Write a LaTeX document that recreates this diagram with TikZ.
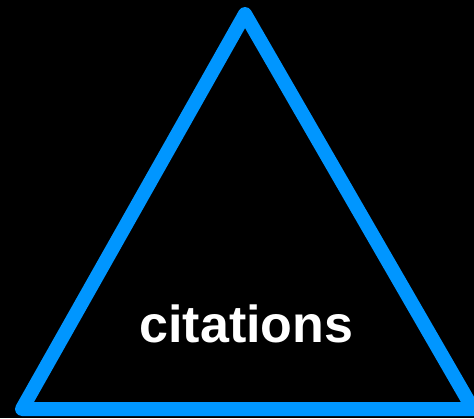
\documentclass[tikz,border=0pt]{standalone}
\usepackage{fontspec}
\setmainfont{Liberation Sans}
\definecolor{triblue}{RGB}{0,150,255}

\begin{document}
\begin{tikzpicture}[x=1pt,y=1pt,line width=14pt]
  \fill[black] (0,0) rectangle (474,418);
  \clip (0,0) rectangle (474,418);
  \draw[triblue,line join=round] (245,404) -- (22,9) -- (473,9) -- cycle;
  \node[text=white,font=\fontsize{52}{60}\selectfont\bfseries,anchor=base,inner sep=0pt] (lbl) at (246.5,76) {citations};
\end{tikzpicture}
\end{document}
